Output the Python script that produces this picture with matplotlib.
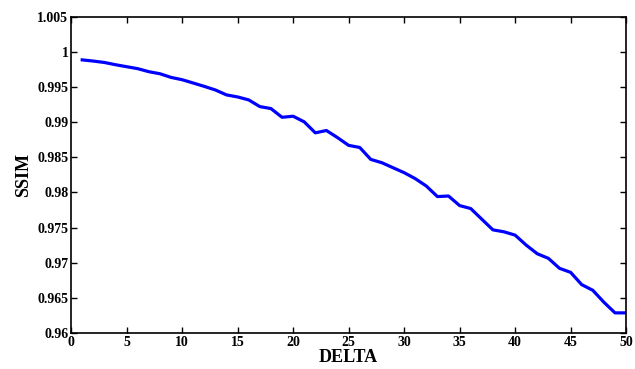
import numpy as np
import matplotlib.pyplot as plt

# SSIM vs DELTA
delta = np.arange(1, 51)
ssim = [0.99885, 0.99868, 0.99848, 0.99816, 0.99788, 0.9976, 0.99717, 0.99688, 0.99636, 0.99603,
        0.99556, 0.99508, 0.99457, 0.99387, 0.99358, 0.99316, 0.99221, 0.99193, 0.99069, 0.99084,
        0.99004, 0.98848, 0.98881, 0.9878, 0.9867, 0.9864, 0.9847, 0.98423, 0.98352, 0.98282,
        0.98197, 0.98092, 0.97942, 0.9795, 0.97814, 0.97772, 0.9762, 0.97469, 0.97441, 0.97394,
        0.97252, 0.97129, 0.97064, 0.96922, 0.96865, 0.9669, 0.9661, 0.9644, 0.96289, 0.96289]

xticks = [0, 5, 10, 15, 20, 25, 30, 35, 40, 45, 50]
yticks = [0.96, 0.965, 0.97, 0.975, 0.98, 0.985, 0.99, 0.995, 1, 1.005]
ytick_labels = ["0.96", "0.965", "0.97", "0.975", "0.98", "0.985", "0.99", "0.995", "1", "1.005"]

plt.rcParams['font.family'] = ['Liberation Serif', 'DejaVu Serif']
plt.rcParams['font.weight'] = 'bold'

fig = plt.figure(figsize=(6.35, 3.69), dpi=100)
ax = fig.add_axes([0.112, 0.097, 0.874, 0.858])
ax.plot(delta, ssim, color="#0000ff", linewidth=2.3)

ax.set_xlim(0, 50)
ax.set_ylim(0.96, 1.005)
ax.set_xticks(xticks)
ax.set_yticks(yticks)
ax.set_yticklabels(ytick_labels)
ax.tick_params(direction="in", top=True, right=True, length=4, width=1, labelsize=10, pad=2)
for lbl in ax.get_xticklabels() + ax.get_yticklabels():
    lbl.set_fontweight("bold")
for s in ax.spines.values():
    s.set_linewidth(1.2)

ax.set_xlabel("DELTA", fontsize=13, fontweight="bold", labelpad=0)
ax.set_ylabel("SSIM", fontsize=13, fontweight="bold", labelpad=4)

fig.savefig("out.png", dpi=100)
